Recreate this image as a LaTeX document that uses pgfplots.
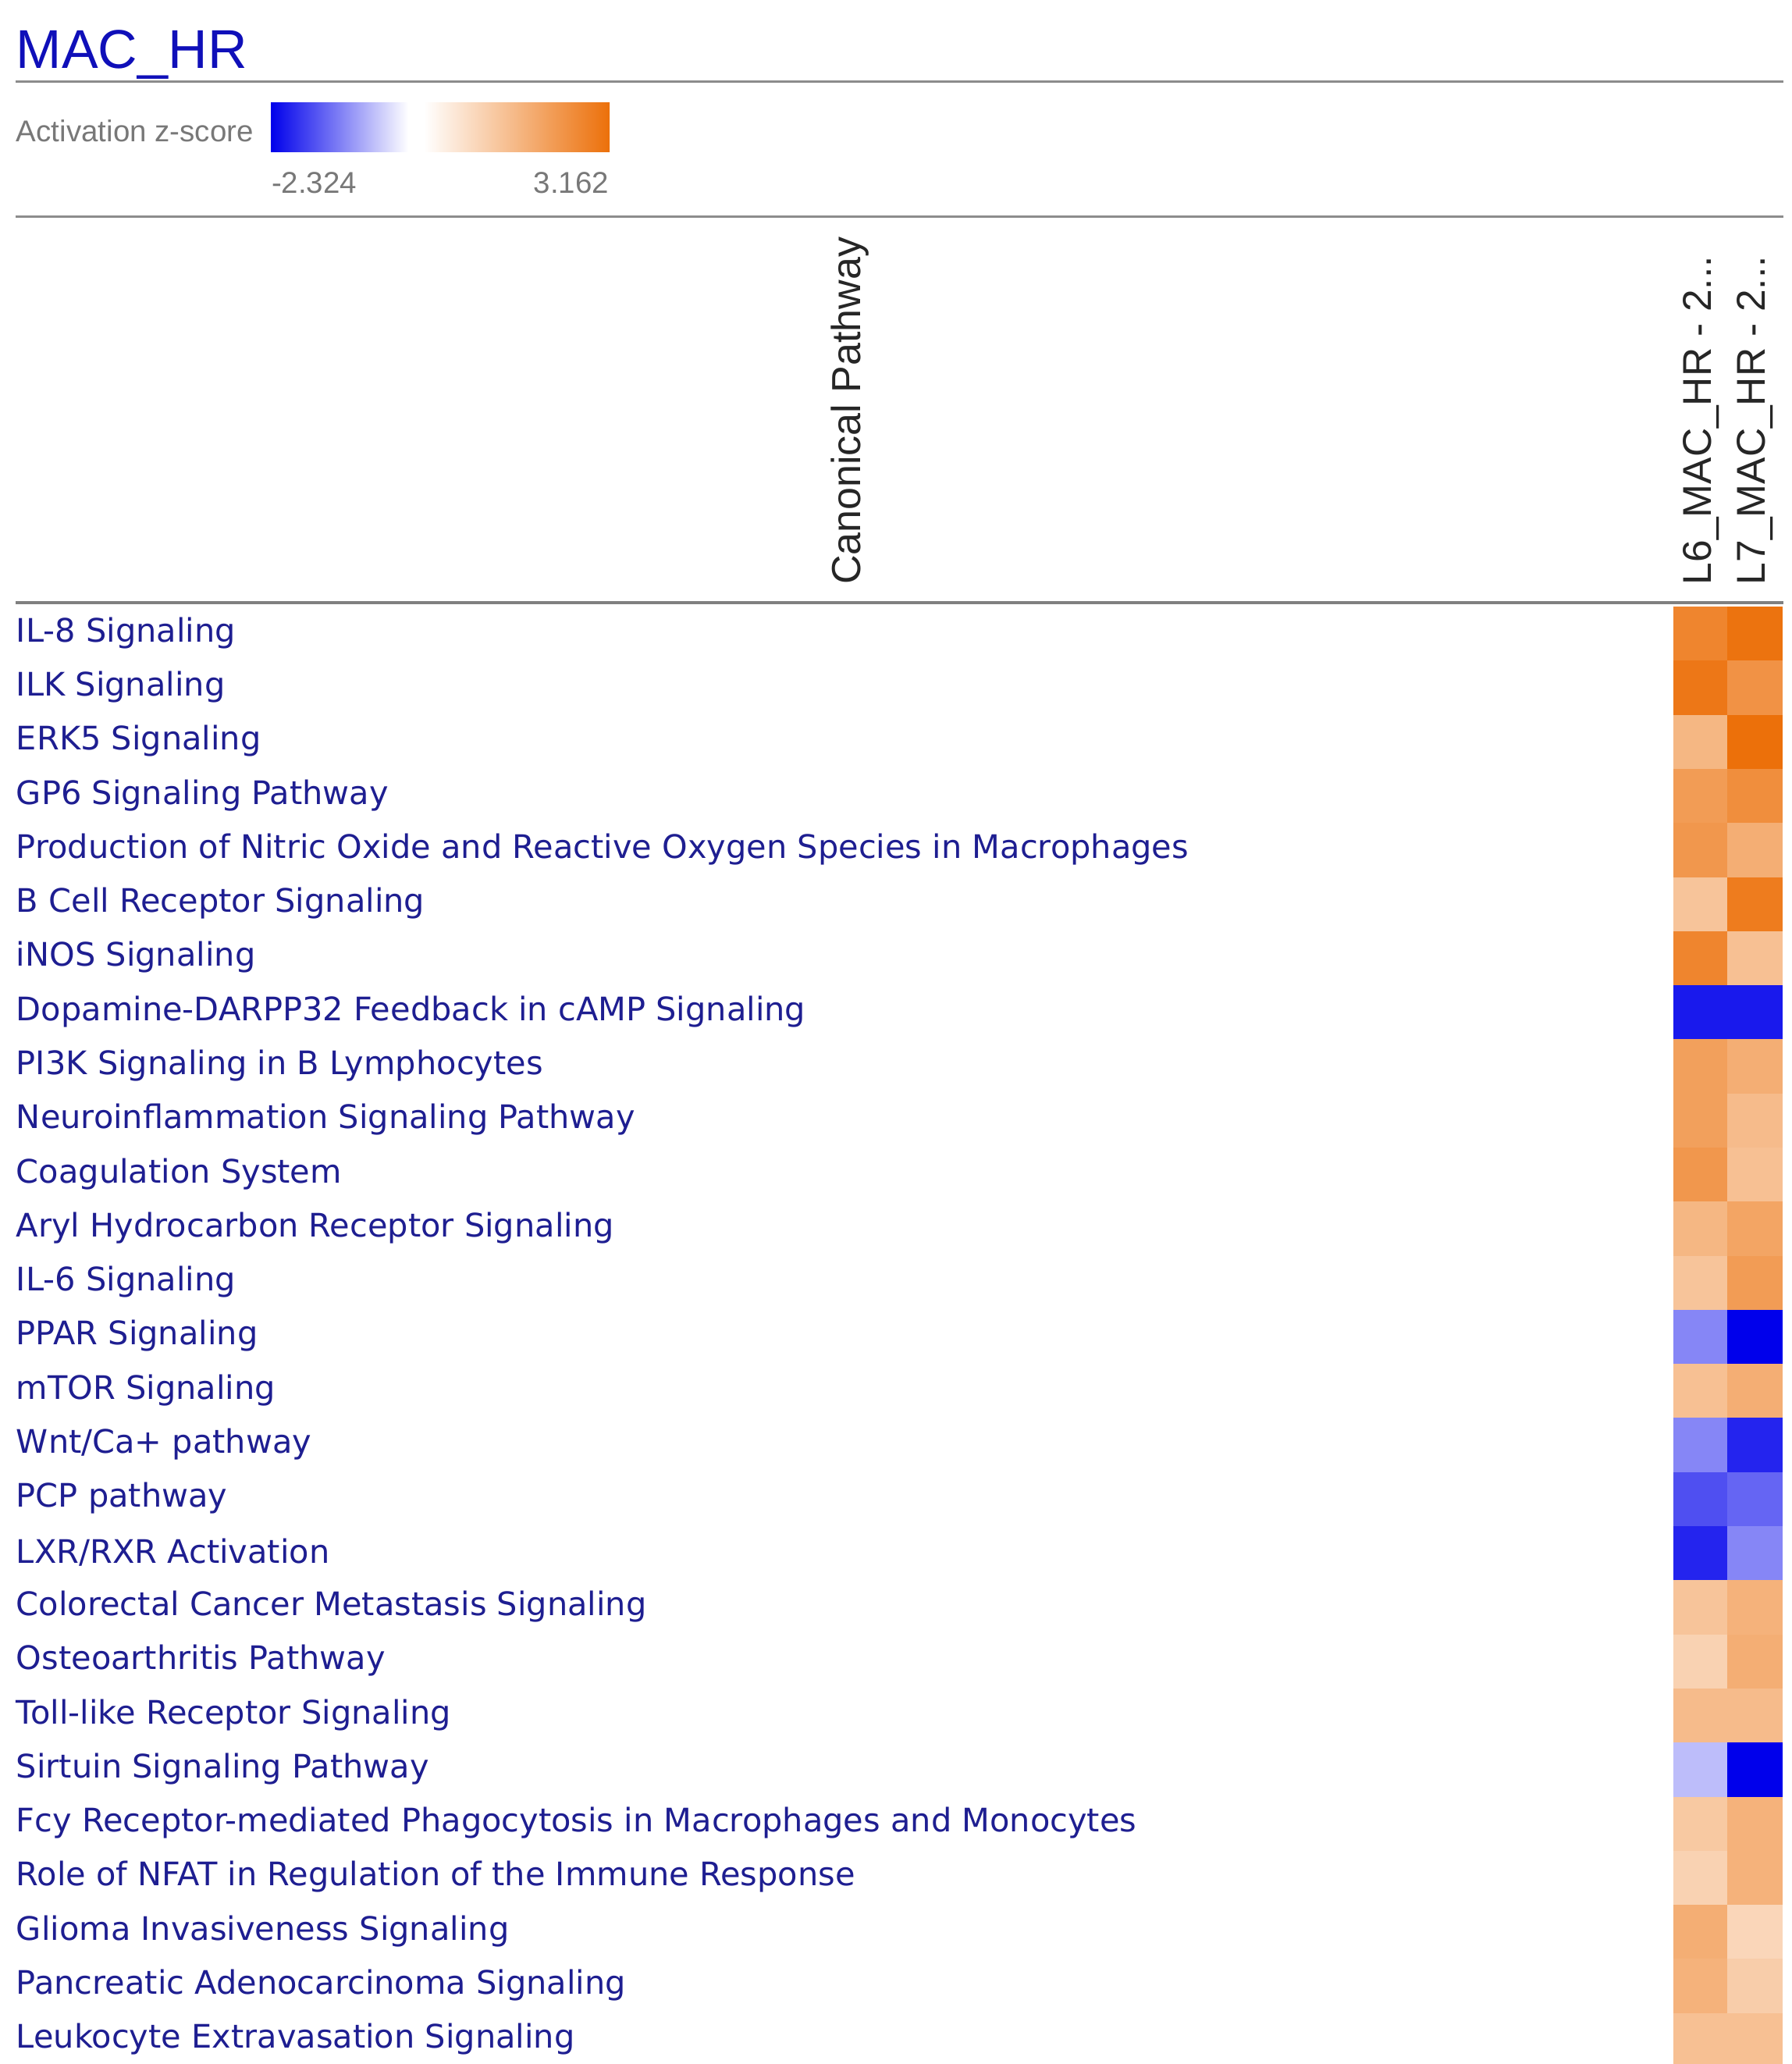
\documentclass[border=0pt]{standalone}
\usepackage{pgfplots}
\pgfplotsset{compat=1.18}
\usepackage{pgfplotstable}
\usepackage{fontspec}
\setmainfont{Liberation Sans}
\newfontfamily\rowfont{DejaVu Sans}
\definecolor{titleblue}{RGB}{15,15,185}
\definecolor{rowblue}{RGB}{30,30,145}
\definecolor{rulegray}{RGB}{140,140,140}
\definecolor{txtgray}{RGB}{120,120,120}
\definecolor{zorange}{RGB}{236,112,10}
\definecolor{zblue}{RGB}{0,0,235}

% x = column (0 = L6, 1 = L7), y = row (1 = top), z = activation z-score
\pgfplotstableread{
x y z
0 1 2.7
1 1 3.1
0 2 3.0
1 2 2.4
0 3 1.6
1 3 3.162
0 4 2.2
1 4 2.5
0 5 2.3
1 5 1.8
0 6 1.3
1 6 2.9
0 7 2.7
1 7 1.4
0 8 -2.1
1 8 -2.1
0 9 2.1
1 9 1.8
0 10 2.1
1 10 1.5
0 11 2.3
1 11 1.4
0 12 1.6
1 12 2.0
0 13 1.3
1 13 2.2
0 14 -1.1
1 14 -2.324
0 15 1.4
1 15 1.8
0 16 -1.1
1 16 -2.0
0 17 -1.6
1 17 -1.4
0 18 -2.0
1 18 -1.1
0 19 1.3
1 19 1.7
0 20 1.0
1 20 1.8
0 21 1.5
1 21 1.5
0 22 -0.6
1 22 -2.324
0 23 1.2
1 23 1.7
0 24 1.0
1 24 1.7
0 25 1.8
1 25 0.9
0 26 1.7
1 26 1.1
0 27 1.4
1 27 1.4
}\zdata

\begin{document}
\begin{tikzpicture}
\useasboundingbox (0pt,0pt) rectangle (459.2pt,-528.8pt);
\clip (0pt,0pt) rectangle (459.2pt,-528.8pt);
\fill[white] (0pt,0pt) rectangle (459.2pt,-528.8pt);

% title and header
\node[anchor=base west, inner sep=0pt, text=titleblue, font=\fontsize{14}{16}\selectfont] at (4pt,-17.6pt) {MAC\_HR};
\draw[rulegray, line width=0.6pt] (4pt,-21pt) -- (457pt,-21pt);
\node[anchor=base west, inner sep=0pt, text=txtgray, font=\fontsize{7.7}{9}\selectfont] at (4pt,-36.4pt) {Activation z-score};
\shade[left color=zblue, right color=white] (69.4pt,-26.4pt) rectangle (104.6pt,-39pt);
\shade[left color=white, right color=zorange] (108.6pt,-26.4pt) rectangle (156.2pt,-39pt);
\node[anchor=base west, inner sep=0pt, text=txtgray, font=\fontsize{7.7}{9}\selectfont] at (69.4pt,-49.6pt) {-2.324};
\node[anchor=base east, inner sep=0pt, text=txtgray, font=\fontsize{7.7}{9}\selectfont] at (156.2pt,-49.6pt) {3.162};
\draw[rulegray, line width=0.6pt] (4pt,-55.6pt) -- (457pt,-55.6pt);
\node[rotate=90, anchor=base west, inner sep=0pt, text=black!85, font=\fontsize{10.4}{12}\selectfont] at (220.4pt,-150pt) {Canonical Pathway};
\draw[black!50, line width=0.8pt] (4pt,-154.4pt) -- (457pt,-154.4pt);

\begin{axis}[
  at={(429pt,-155.6pt)}, anchor=north west,
  scale only axis, width=27.6pt, height=374.2pt,
  xmin=-0.5, xmax=1.5, ymin=0.5, ymax=27.5,
  y dir=reverse,
  axis line style={draw=none},
  major tick length=0pt,
  xtick={0,1},
  xticklabels={{L6\_MAC\_HR - 2.\kern0pt.\kern0pt.}, {L7\_MAC\_HR - 2.\kern0pt.\kern0pt.}},
  xticklabel pos=upper,
  xticklabel style={rotate=90, anchor=west, inner xsep=5.6pt, inner ysep=0pt, font=\fontsize{10.3}{12}\selectfont, text=black!85},
  ytick={1,...,27},
  yticklabels={
    IL-8 Signaling,
    ILK Signaling,
    ERK5 Signaling,
    GP6 Signaling Pathway,
    Production of Nitric Oxide and Reactive Oxygen Species in Macrophages,
    B Cell Receptor Signaling,
    iNOS Signaling,
    Dopamine-DARPP32 Feedback in cAMP Signaling,
    PI3K Signaling in B Lymphocytes,
    Neuroinflammation Signaling Pathway,
    Coagulation System,
    Aryl Hydrocarbon Receptor Signaling,
    IL-6 Signaling,
    PPAR Signaling,
    mTOR Signaling,
    Wnt/Ca+ pathway,
    PCP pathway,
    LXR/RXR Activation,
    Colorectal Cancer Metastasis Signaling,
    Osteoarthritis Pathway,
    Toll-like Receptor Signaling,
    Sirtuin Signaling Pathway,
    Fcy Receptor-mediated Phagocytosis in Macrophages and Monocytes,
    Role of NFAT in Regulation of the Immune Response,
    Glioma Invasiveness Signaling,
    Pancreatic Adenocarcinoma Signaling,
    Leukocyte Extravasation Signaling},
  yticklabel style={anchor=west, xshift=-425pt, yshift=0.4pt, inner xsep=0pt, font=\rowfont\fontsize{8.3}{10}\selectfont, text=rowblue},
  colormap={zs}{rgb255(0cm)=(0,0,235) rgb255(2.324cm)=(255,255,255) rgb255(5.486cm)=(236,112,10)},
  point meta min=-2.324, point meta max=3.162,
  clip=false,
]
\addplot[matrix plot*, mesh/cols=2, point meta=explicit, draw=none] table[x=x, y=y, meta=z] {\zdata};
\end{axis}
\end{tikzpicture}
\end{document}
